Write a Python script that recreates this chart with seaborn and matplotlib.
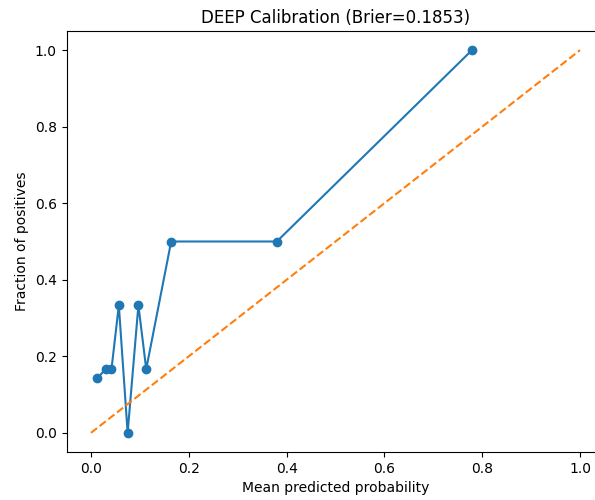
import matplotlib
matplotlib.use("Agg")
import matplotlib.pyplot as plt
import seaborn as sns
import pandas as pd

mean_pred = [0.013, 0.030, 0.042, 0.057, 0.075, 0.097, 0.113, 0.164, 0.380, 0.779]
frac_pos = [1/7, 1/6, 1/6, 1/3, 0.0, 1/3, 1/6, 0.5, 0.5, 1.0]
diag = [0.0, 1.0]
title = "DEEP Calibration (Brier=0.1853)"

df = pd.DataFrame({"mean_pred": mean_pred, "frac_pos": frac_pos})

fig = plt.figure(figsize=(5.95, 5.0), dpi=100)
ax = fig.add_axes([66.5/595, 48/500, (604.5-66.5)/595, (452-31)/500])

sns.lineplot(data=df, x="mean_pred", y="frac_pos", sort=False, marker="o",
             color="#1f77b4", markersize=6, markeredgecolor="#1f77b4",
             markeredgewidth=1, linewidth=1.5, ax=ax, estimator=None)
ax.plot(diag, diag, "--", color="#ff7f0e", linewidth=1.5)

ax.set_xlim(-0.05, 1.05)
ax.set_ylim(-0.05, 1.05)
ax.set_xticks([0.0, 0.2, 0.4, 0.6, 0.8, 1.0])
ax.set_yticks([0.0, 0.2, 0.4, 0.6, 0.8, 1.0])
ax.set_xlabel("Mean predicted probability")
ax.set_ylabel("Fraction of positives")
ax.set_title(title)

fig.savefig("out.png", dpi=100)
